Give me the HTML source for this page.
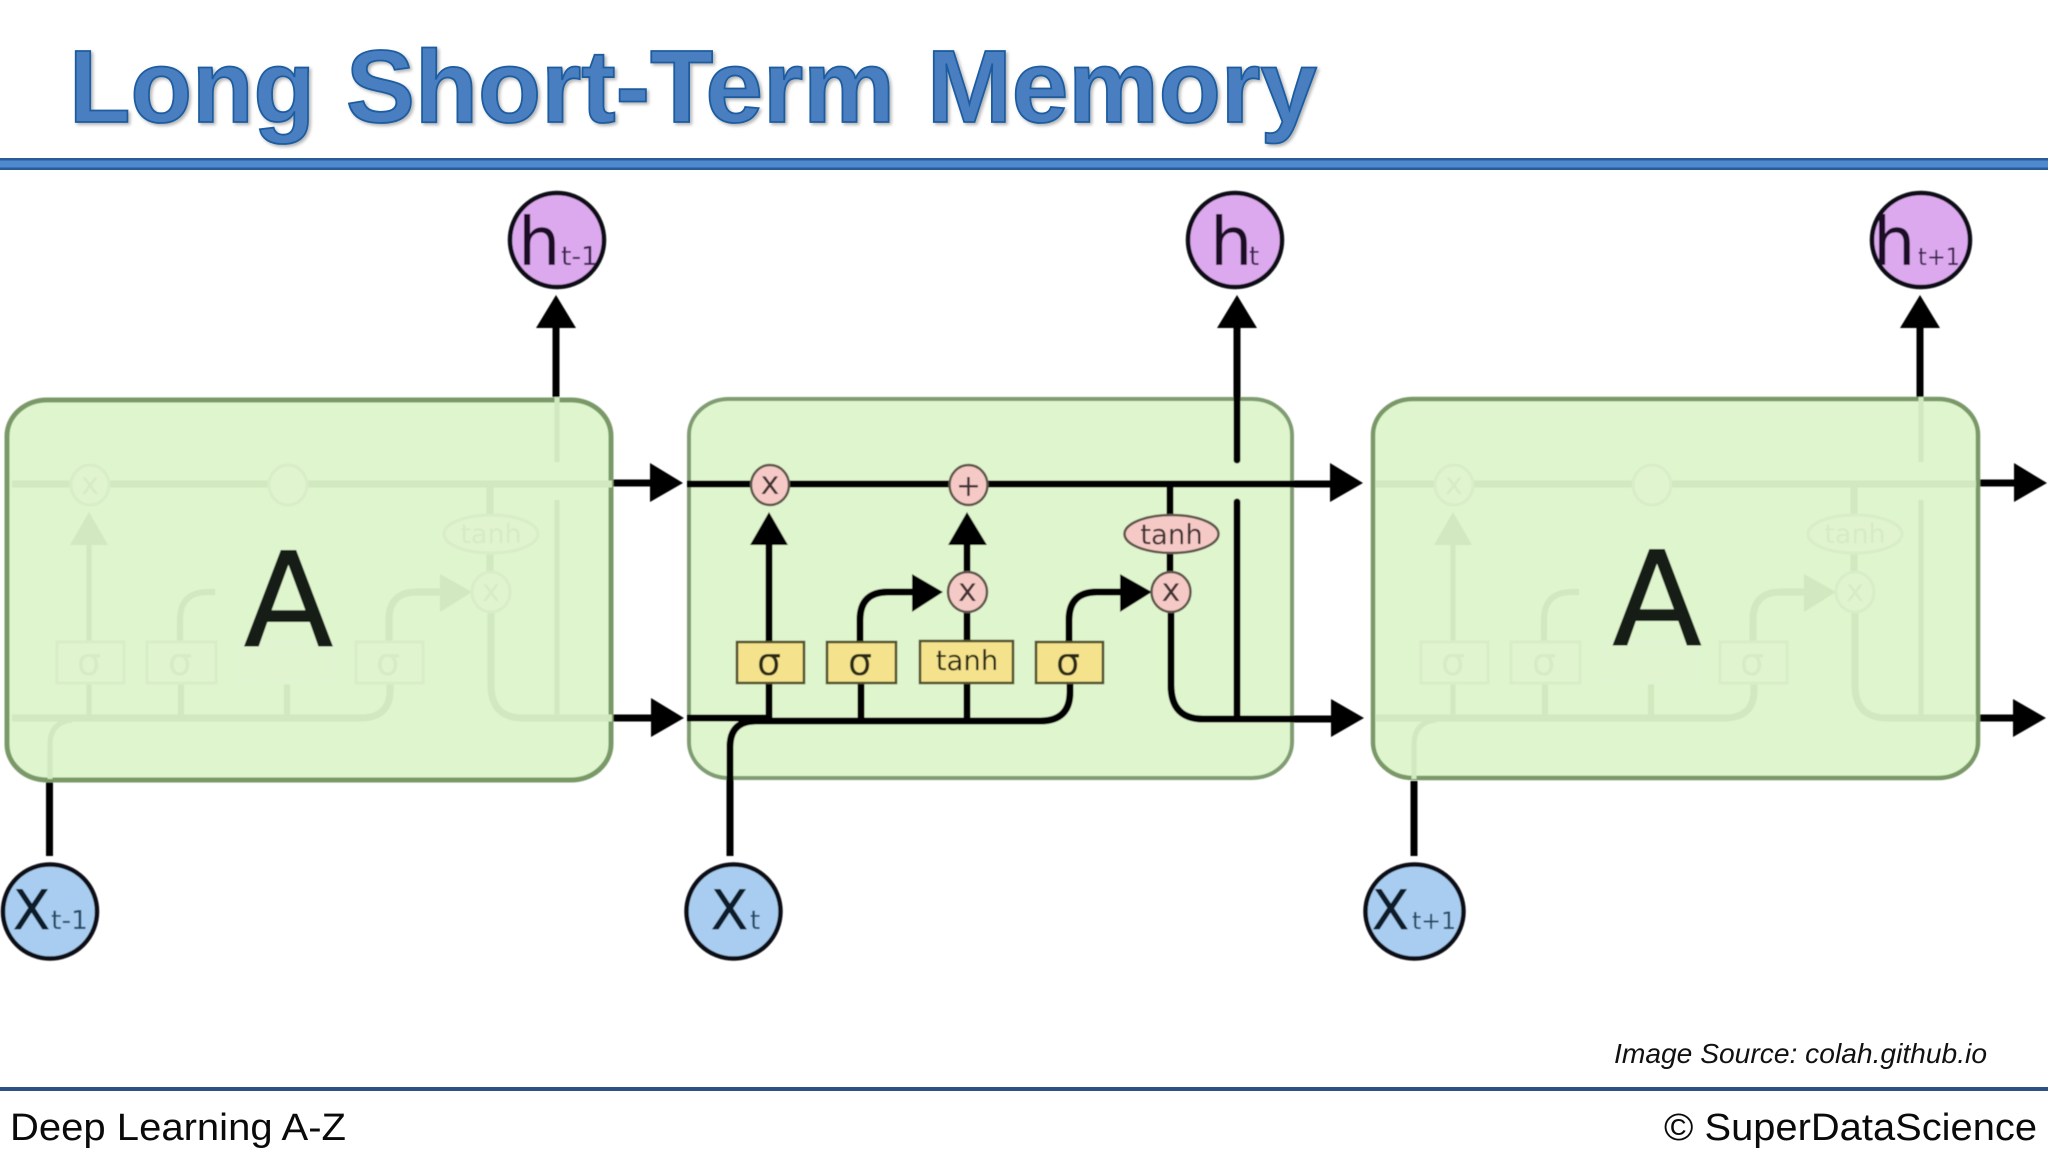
<!DOCTYPE html>
<html>
<head>
<meta charset="utf-8">
<title>Long Short-Term Memory</title>
<style>
html,body{margin:0;padding:0;background:#fff;width:2048px;height:1152px;overflow:hidden}
svg{display:block}
.dj{font-family:"DejaVu Sans",sans-serif}
.ls{font-family:"Liberation Sans",sans-serif}
</style>
</head>
<body>
<svg width="2048" height="1152" viewBox="0 0 2048 1152" xmlns="http://www.w3.org/2000/svg">
<defs>
  <filter id="sh" x="-5%" y="-20%" width="110%" height="140%"><feDropShadow dx="2" dy="2" stdDeviation="1.500" flood-color="#000" flood-opacity=".3"/></filter>
  <filter id="soft" filterUnits="userSpaceOnUse" x="0" y="0" width="2048" height="1152"><feGaussianBlur stdDeviation="0.6"/></filter>
  <g id="faint">
    <g fill="none" stroke="#d1e8c0" stroke-width="7">
      <path d="M692 484H1292"/>
      <path d="M692 718H1040Q1070 718 1070 690V683"/>
      <path d="M730 779V745Q730 722 752 720" stroke-width="5"/>
      <path d="M769 718V683M769 642V540" stroke-width="5"/>
      <path d="M861 718V683M860 642V620Q860 592 888 592H895" stroke-width="6"/>
      <path d="M967 718V683" stroke-width="6"/>
      <path d="M1069 642V620Q1069 592 1097 592H1125"/>
      <path d="M1170 484V515M1170 553V572M1171 612V685Q1171 718 1203 718H1292"/>
      <path d="M1237 397V462M1237 500V718" stroke-width="5"/>
    </g>
    <polygon points="769,512 750,545 788,545" fill="#d1e8c0"/>
    <polygon points="1120,574 1152,592 1120,612" fill="#d1e8c0"/>
    <g fill="#e0f5cf" stroke="#d8edc8" stroke-width="3">
      <ellipse cx="770" cy="485" rx="19" ry="20"/>
      <ellipse cx="968" cy="485" rx="19" ry="20"/>
      <ellipse cx="1171" cy="592" rx="19" ry="20"/>
      <ellipse cx="1171" cy="534" rx="47" ry="19"/>
      <rect x="737" y="642" width="67" height="41"/>
      <rect x="827" y="642" width="69" height="41"/>
      <rect x="920" y="642" width="93" height="41" stroke="#e0f3d2"/>
      <rect x="1036" y="642" width="67" height="41"/>
    </g>
    <g class="dj" fill="#d6ebc6" text-anchor="middle">
      <text x="769" y="675" font-size="38">σ</text>
      <text x="860" y="675" font-size="38">σ</text>
      <text x="1068" y="675" font-size="38">σ</text>
      <text x="1171" y="543" font-size="27">tanh</text>
      <text x="770" y="494" font-size="30">x</text>
      <text x="1171" y="601" font-size="30">x</text>
    </g>
  </g>
</defs>
<rect width="2048" height="1152" fill="#fff"/>

<!-- Title -->
<text class="ls" y="122" font-size="103" font-weight="700" fill="#4a7fc0" stroke="#1f5c9f" stroke-width="1.800" filter="url(#sh)"><tspan x="69" textLength="246" lengthAdjust="spacingAndGlyphs">Long</tspan> <tspan x="346" textLength="549" lengthAdjust="spacingAndGlyphs">Short-Term</tspan> <tspan x="927" textLength="390" lengthAdjust="spacingAndGlyphs">Memory</tspan></text>
<rect x="0" y="158" width="2048" height="12" fill="#2a5a98"/>
<rect x="0" y="160.500" width="2048" height="7" fill="#4f89cf"/>

<g filter="url(#soft)">
<!-- Black connectors outside boxes -->
<g fill="none" stroke="#050505" stroke-width="7">
  <path d="M556 397V322"/>
  <path d="M1920 397V322"/>
  <path d="M49.500 781V856" />
  <path d="M1414 781V856"/>
  <path d="M612 483H655M612 718H655"/>
  <path d="M1980 483H2018M1980 718H2018"/>
</g>
<g fill="#000">
  <polygon points="556,295 536,328 576,328"/>
  <polygon points="1237,295 1217,328 1257,328"/>
  <polygon points="1920,295 1900,328 1940,328"/>
  <polygon points="650,463 683,483 650,502"/>
  <polygon points="651,698 684,718 651,737"/>
  <polygon points="2014,463 2047,483 2014,502"/>
  <polygon points="2013,699 2046,718 2013,737"/>
</g>

<!-- Green boxes -->
<rect x="7" y="400" width="604" height="380" rx="40" ry="36" fill="#dff5cd" stroke="#7a9968" stroke-width="5"/>
<rect x="689" y="399" width="603" height="379" rx="40" ry="36" fill="#dff5cd" stroke="#7f9c72" stroke-width="4"/>
<rect x="1373" y="399" width="605" height="379" rx="40" ry="36" fill="#dff5cd" stroke="#7a9968" stroke-width="4.500"/>

<!-- Faint copies -->
<use href="#faint" transform="translate(-680 0)"/>
<use href="#faint" transform="translate(684 0)"/>
<text class="dj" x="288.500" y="646" font-size="131" text-anchor="middle" fill="#141c12" stroke="#141c12" stroke-width="1">A</text>
<text class="dj" x="1657" y="645" font-size="131" text-anchor="middle" fill="#141c12" stroke="#141c12" stroke-width="1">A</text>

<!-- Middle cell connectors -->
<g fill="none" stroke="#050505" stroke-width="7">
  <path d="M1237 322V460" stroke-linecap="round"/>
  <path d="M687 484H1335"/>
  <path d="M687 718H770"/>
  <path d="M730 856V747Q730 721 756 721H1040Q1070 721 1070 692V683"/>
  <path d="M769 718V540"/>
  <path d="M861 718V683M860 642V620Q860 592 888 592H915"/>
  <path d="M967 718V540"/>
  <path d="M1069 642V620Q1069 592 1097 592H1125"/>
  <path d="M1170 484V572"/>
  <path d="M1171 612V685Q1171 719 1203 719H1335"/>
  <path d="M1237 502V718" stroke-linecap="round"/>
</g>
<g fill="#000">
  <polygon points="769,512 750,545 788,545"/>
  <polygon points="967,512 948,545 987,545"/>
  <polygon points="912,574 943,592 912,612"/>
  <polygon points="1120,574 1152,592 1120,612"/>
  <polygon points="1330,463 1363,483 1330,502"/>
  <polygon points="1331,699 1364,718 1331,737"/>
</g>

<!-- Operators -->
<g fill="#f5c9c6" stroke="#5d5548" stroke-width="2.500">
  <ellipse cx="770" cy="485" rx="19" ry="20"/>
  <ellipse cx="968.500" cy="485" rx="19" ry="20"/>
  <ellipse cx="967.500" cy="592" rx="19.500" ry="20"/>
  <ellipse cx="1171" cy="592" rx="19.500" ry="20"/>
  <ellipse cx="1171.500" cy="534" rx="47" ry="19"/>
</g>
<g class="dj" fill="#3f3030" text-anchor="middle">
  <text x="770" y="494" font-size="32">x</text>
  <text x="968.500" y="496" font-size="30">+</text>
  <text x="967.500" y="601" font-size="32">x</text>
  <text x="1171" y="601" font-size="32">x</text>
  <text x="1171.500" y="544" font-size="27.500">tanh</text>
</g>

<!-- Layer boxes -->
<g fill="#f5e28c" stroke="#4e4f2c" stroke-width="2.500">
  <rect x="737" y="642" width="67" height="41"/>
  <rect x="827" y="642" width="69" height="41"/>
  <rect x="920" y="641" width="93" height="42"/>
  <rect x="1036" y="642" width="67" height="41"/>
</g>
<g class="dj" fill="#2a2a14" text-anchor="middle">
  <text x="769" y="675" font-size="38">σ</text>
  <text x="860" y="675" font-size="38">σ</text>
  <text x="967" y="670" font-size="27.500">tanh</text>
  <text x="1068" y="675" font-size="38">σ</text>
</g>

<!-- h circles -->
<g fill="#dda9ee" stroke="#0a0a14" stroke-width="4.500">
  <circle cx="557" cy="240" r="47"/>
  <circle cx="1235" cy="240" r="47"/>
  <ellipse cx="1921" cy="240" rx="49" ry="47"/>
</g>
<g class="dj" fill="#1c1028">
  <text x="518" y="265" font-size="67">h</text>
  <text x="561" y="265" font-size="26" fill="#3a2450" textLength="37" lengthAdjust="spacingAndGlyphs">t-1</text>
  <text x="1210" y="265" font-size="67">h</text>
  <text x="1249" y="265" font-size="26" fill="#3a2450">t</text>
  <text x="1873" y="265" font-size="67">h</text>
  <text x="1918" y="265" font-size="24" fill="#3a2450" textLength="42" lengthAdjust="spacingAndGlyphs">t+1</text>
</g>

<!-- x circles -->
<g fill="#a8cdf0" stroke="#0a0f18" stroke-width="4.500">
  <circle cx="50" cy="911.500" r="47"/>
  <circle cx="733.500" cy="911.500" r="47"/>
  <ellipse cx="1414.500" cy="911.500" rx="49" ry="47"/>
</g>
<g class="dj" fill="#0e1a2a">
  <text x="13" y="929" font-size="54" stroke="#0e1a2a" stroke-width=".7">X</text>
  <text x="51" y="929" font-size="26" fill="#244a66" textLength="37" lengthAdjust="spacingAndGlyphs">t-1</text>
  <text x="711" y="929" font-size="54" stroke="#0e1a2a" stroke-width=".7">X</text>
  <text x="750" y="929" font-size="26" fill="#244a66">t</text>
  <text x="1372" y="929" font-size="54" stroke="#0e1a2a" stroke-width=".7">X</text>
  <text x="1412" y="929" font-size="24" fill="#244a66" textLength="44" lengthAdjust="spacingAndGlyphs">t+1</text>
</g>
</g>

<!-- Footer -->
<text class="ls" x="1614" y="1063" font-size="28" font-style="italic" fill="#111" textLength="373" lengthAdjust="spacingAndGlyphs">Image Source: colah.github.io</text>
<rect x="0" y="1087" width="2048" height="4" fill="#2c5283"/>
<text class="ls" x="10" y="1140" font-size="38" fill="#0a0a0a" textLength="336" lengthAdjust="spacingAndGlyphs">Deep Learning A-Z</text>
<text class="ls" x="1664" y="1140" font-size="38" fill="#0a0a0a" textLength="373" lengthAdjust="spacingAndGlyphs">© SuperDataScience</text>
</svg>
</body>
</html>
